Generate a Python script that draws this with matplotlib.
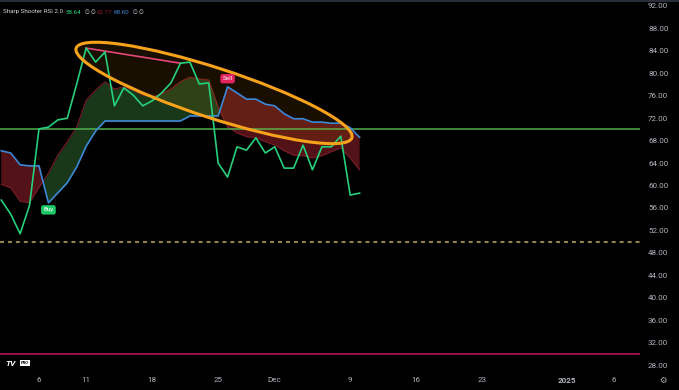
import numpy as np
import pandas as pd
import matplotlib.pyplot as plt
import matplotlib.dates as mdates
from matplotlib.patches import Ellipse
from matplotlib.transforms import IdentityTransform
from matplotlib.lines import Line2D

plt.rcParams['font.family'] = ['Roboto', 'DejaVu Sans']

# daily values, Nov 2 .. Dec 10 2024
dates = pd.date_range('2024-11-02', '2024-12-10', freq='D')
rsi = [57.4, 54.9, 51.4, 56.5, 70.1, 70.4, 71.7, 72.0, 78.1, 84.5,
       82.0, 83.8, 74.2, 77.4, 76.1, 74.2, 75.1, 76.5, 78.3, 81.8,
       82.0, 78.1, 78.3, 64.0, 61.5, 66.9, 66.3, 68.5, 65.8, 66.9,
       63.1, 63.1, 67.2, 62.8, 66.9, 66.9, 68.8, 58.3, 58.64]
signal = [66.2, 65.8, 63.7, 63.5, 63.5, 56.9, 58.7, 60.5, 63.3, 67.0,
          69.7, 71.5, 71.5, 71.5, 71.5, 71.5, 71.5, 71.5, 71.5, 71.5,
          72.4, 72.4, 72.4, 72.4, 77.6, 76.5, 75.4, 75.4, 74.5, 74.2,
          72.8, 71.9, 71.9, 71.3, 71.3, 71.1, 71.1, 70.3, 68.60]
ema = [60.2, 59.6, 57.2, 56.9, 59.6, 62.2, 65.4, 67.8, 70.4, 75.2,
       77.0, 78.5, 77.2, 77.6, 77.0, 76.1, 75.8, 76.3, 77.2, 78.5,
       79.3, 79.0, 78.8, 74.0, 70.4, 69.4, 68.7, 68.5, 67.8, 67.2,
       66.2, 65.4, 65.3, 64.9, 65.3, 66.0, 66.7, 64.9, 62.77]
buy_idx, sell_idx = 5, 24
div_idx = (9, 19)

tick_dates = ['2024-11-06', '2024-11-11', '2024-11-18', '2024-11-25', '2024-12-01',
              '2024-12-09', '2024-12-16', '2024-12-23', '2025-01-01', '2025-01-06']
tick_labels = ['6', '11', '18', '25', 'Dec', '9', '16', '23', '2025', '6']
yticks = np.arange(28, 93, 4)

W, H = 679, 390
fig = plt.figure(figsize=(W / 100, H / 100), dpi=100, facecolor='black')
ax = fig.add_axes([0, 18 / H, 640 / W, 370 / H])
ax.set_facecolor('black')
for s in ax.spines.values():
    s.set_visible(False)

x = mdates.date2num(dates)
x0 = mdates.date2num(pd.Timestamp('2024-11-06'))
ax.set_xlim(x0 - 39 / 9.43, x0 + 601 / 9.43)
ax.set_ylim(92 - 366 / 5.61, 92 + 4 / 5.61)

sig = np.array(signal)
em = np.array(ema)
ax.fill_between(x, sig, em, where=em >= sig, interpolate=True,
                color='#4caf50', alpha=0.32, lw=0, zorder=1)
ax.fill_between(x, sig, em, where=em < sig, interpolate=True,
                color='#f23645', alpha=0.34, lw=0, zorder=1)
ax.plot(x, ema, color='#7a1d2a', lw=0.8, zorder=1.5)

ax.axhline(70, color='#4caf50', lw=1.1, zorder=2)
ax.axhline(50, color='#c9a95c', lw=1.1, ls=(0, (2.6, 2.6)), zorder=2)
ax.axhline(30, color='#c2185b', lw=1.1, zorder=2)

ax.plot(x, signal, color='#3c88d8', lw=1.2, zorder=3)
ax.plot(x, rsi, color='#26d07c', lw=1.2, zorder=3.2)
ax.plot([x[div_idx[0]], x[div_idx[1]]], [rsi[div_idx[0]], rsi[div_idx[1]]],
        color='#e5467a', lw=1.2, zorder=3.1)

# hand drawn ellipse
cx, cy = ax.transData.transform((x0 + 18.56, 76.5))
ax.add_patch(Ellipse((cx, cy), 290, 50, angle=-18, transform=IdentityTransform(),
                     facecolor=(1, 0.6, 0, 0.1), edgecolor='none', zorder=2.5))
ax.add_patch(Ellipse((cx, cy), 290, 50, angle=-18, transform=IdentityTransform(),
                     facecolor='none', edgecolor='#f7a21b', lw=2.2, zorder=4))

ax.annotate('Buy', xy=(x[buy_idx], signal[buy_idx]), xytext=(0, -5),
            textcoords='offset points', ha='center', va='center', fontsize=4.5,
            color='white', zorder=5,
            bbox=dict(boxstyle='round,pad=0.35', fc='#1ec866', ec='none'))
ax.annotate('Sell', xy=(x[sell_idx], signal[sell_idx]), xytext=(0, 5.8),
            textcoords='offset points', ha='center', va='center', fontsize=4.5,
            color='white', zorder=5,
            bbox=dict(boxstyle='round,pad=0.35', fc='#e0245e', ec='none'))

ax.set_xticks(mdates.date2num(pd.to_datetime(tick_dates)))
ax.set_xticklabels(tick_labels)
for t in ax.get_xticklabels():
    if t.get_text() == '2025':
        t.set_fontweight('bold')
        t.set_color('#e0e3eb')
ax.tick_params(axis='x', length=0, pad=3.5, labelsize=5.8, labelcolor='#b2b5be')
ax.yaxis.tick_right()
ax.set_yticks(yticks)
ax.set_yticklabels([f'{v:.2f}' for v in yticks])
ax.tick_params(axis='y', length=0, pad=5.8, labelsize=5.8, labelcolor='#b2b5be')

# header legend
ly = 1 - 12 / H
fs = 4.5
fig.text(3 / W, ly, 'Sharp Shooter RSI 2.0', fontsize=fs, color='#d1d4dc', va='center')
fig.text(66 / W, ly, f'{rsi[-1]:.2f}', fontsize=fs, color='#26d07c', va='center')
for px in (85, 91, 133, 139):
    fig.text(px / W, ly, '∅', fontsize=4, color='#d1d4dc', va='center')
fig.text(97 / W, ly, f'{ema[-1]:.2f}', fontsize=fs, color='#8c1f2e', va='center')
fig.text(114 / W, ly, f'{signal[-1]:.2f}', fontsize=fs, color='#3c88d8', va='center')

fig.add_artist(Line2D([0, 1], [1 - 1 / H, 1 - 1 / H], color='#2a2e39', lw=1.5))

# logo and settings icon
fig.text(5 / W, 1 - 363 / H, 'TV', fontsize=6, fontweight='bold', color='white',
         va='center', style='italic')
fig.text(21 / W, 1 - 363 / H, 'PRO', fontsize=3, fontweight='bold', color='black',
         va='center', style='italic',
         bbox=dict(boxstyle='square,pad=0.2', fc='white', ec='none'))
fig.text(663 / W, 9 / H, '⚙', fontsize=6, color='#b2b5be', ha='center', va='center')

fig.savefig('out.png', dpi=100, facecolor='black')
